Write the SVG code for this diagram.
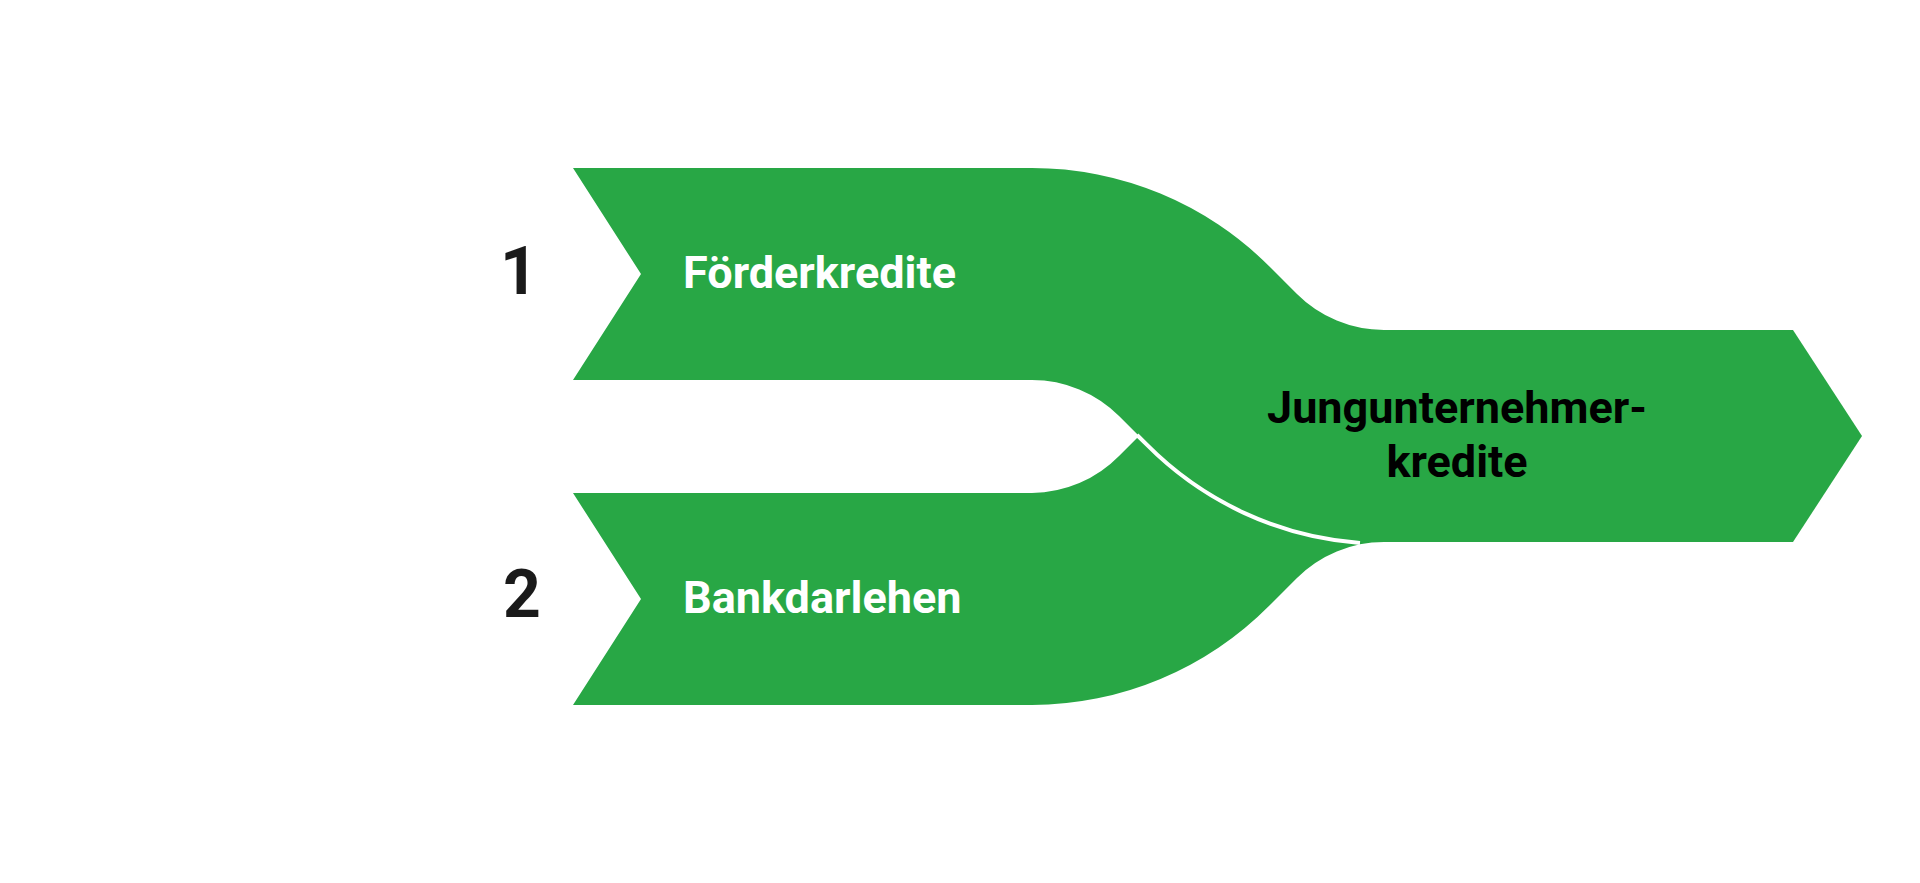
<svg xmlns="http://www.w3.org/2000/svg" width="1920" height="883" viewBox="0 0 1920 883">
  <style>
    .band { fill: #28a745; }
    .num { font-family: Roboto, "Liberation Sans", sans-serif; font-weight: 700; font-size: 66px; fill: #1a1a1a; text-anchor: middle; }
    .lbl { font-family: Roboto, "Liberation Sans", sans-serif; font-weight: 700; font-size: 45px; fill: #ffffff; }
    .out { font-family: Roboto, "Liberation Sans", sans-serif; font-weight: 700; font-size: 45px; fill: #000000; text-anchor: middle; }
    .sep { fill: none; stroke: #ffffff; stroke-width: 4; }
  </style>
  <rect width="1920" height="883" fill="#ffffff"/>
  <g id="node-bankdarlehen">
    <path class="band" d="M 573,705 L 1032,705 A 335.5 335.5 0 0 0 1269.2,605.7 L 1296.7,578.2 A 123.5 123.5 0 0 1 1384,542 L 1384,330 A 335.5 335.5 0 0 0 1146.8,428.3 L 1119.3,455.8 A 123.5 123.5 0 0 1 1032,493 L 573,493 L 641,599 Z"/>
    <text class="lbl" x="683" y="613">Bankdarlehen</text>
    <text class="num" x="522" y="617">2</text>
  </g>
  <g id="node-foerderkredite">
    <path class="band" d="M 573,168 L 1032,168 A 335.5 335.5 0 0 1 1269.2,266.3 L 1296.7,293.8 A 123.5 123.5 0 0 0 1384,330 L 1384,542 A 335.5 335.5 0 0 1 1146.8,443.7 L 1119.3,416.2 A 123.5 123.5 0 0 0 1032,380 L 573,380 L 641,274 Z"/>
    <text class="lbl" x="683" y="288">Förderkredite</text>
    <text class="num" x="519" y="294">1</text>
  </g>
  <g id="connectors">
    <path class="sep" d="M 1137,435 L 1146.8,444.7 A 335.5 335.5 0 0 0 1360,543"/>
  </g>
  <g id="node-jungunternehmerkredite">
    <path class="band" d="M 1383,330 L 1793,330 L 1862,436 L 1793,542 L 1383,542 Z"/>
    <text class="out" x="1457" y="423">Jungunternehmer-</text>
    <text class="out" x="1457" y="477">kredite</text>
  </g>
</svg>
